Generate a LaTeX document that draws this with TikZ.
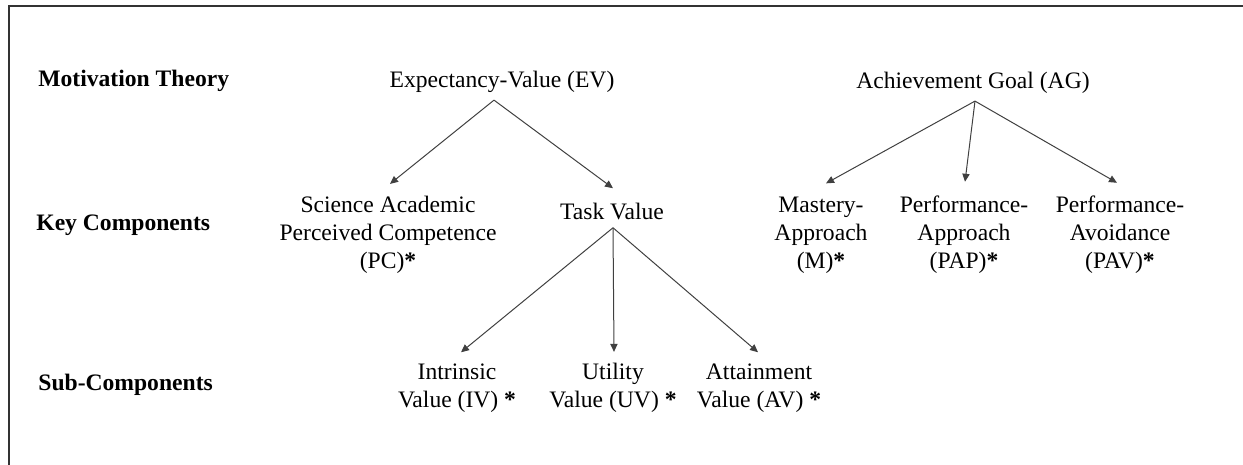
\documentclass[tikz,border=0pt]{standalone}
\usepackage{fontspec}
\setmainfont{Liberation Serif}
\usetikzlibrary{arrows.meta}
\tikzset{
	rowlabel/.style={anchor=west, inner sep=0pt, font=\fontsize{11.8}{14}\selectfont\bfseries},
	concept/.style={align=center, inner sep=0pt, font=\fontsize{11.8}{14}\selectfont},
	link/.style={draw=black!75, line width=0.5pt, -{Triangle[length=4pt,width=3.6pt]}},
}
\begin{document}
\begin{tikzpicture}[x=0.5pt,y=-0.5pt]
		\useasboundingbox (0,0) rectangle (1243,465);
		%draw frame
		\draw[line width=1.2pt, black!80] (9,465) -- (9,6) -- (1243,6);
		%draw row labels
		\node[rowlabel] (theory) at (38,81) {Motivation Theory};
		\node[rowlabel] (key) at (36,225) {Key Components};
		\node[rowlabel] (sub) at (38,385) {Sub-Components};
		%draw theories
		\node[concept] (ev) at (502,82) {Expectancy-Value (EV)};
		\node[concept] (ag) at (973,83) {Achievement Goal (AG)};
		%draw key components
		\node[concept] (pc) at (388,235) {Science Academic\\Perceived Competence\\(PC)\textbf{*}};
		\node[concept] (tv) at (612,211) {Task Value};
		\node[concept] (m) at (821,235) {Mastery-\\Approach\\(M)\textbf{*}};
		\node[concept] (pap) at (964,235) {Performance-\\Approach\\(PAP)\textbf{*}};
		\node[concept] (pav) at (1120,235) {Performance-\\Avoidance\\(PAV)\textbf{*}};
		%draw sub-components
		\node[concept] (iv) at (457,388) {Intrinsic\\Value (IV) \textbf{*}};
		\node[concept] (uv) at (613,388) {Utility\\Value (UV) \textbf{*}};
		\node[concept] (av) at (759,388) {Attainment\\Value (AV) \textbf{*}};
		%arrow roots
		\coordinate (evroot) at ([xshift=-4pt,yshift=-3.5pt]ev.south);
		\coordinate (agroot) at ([xshift=1pt,yshift=-3.5pt]ag.south);
		\coordinate (tvroot) at ([xshift=0.5pt,yshift=-4pt]tv.south);
		%draw arrows
		\draw[link] (evroot) -- ([xshift=1pt,yshift=6pt]pc.north);
		\draw[link] (evroot) -- ([xshift=0.5pt,yshift=7pt]tv.north);
		\draw[link] (agroot) -- ([xshift=2.5pt,yshift=6.5pt]m.north);
		\draw[link] (agroot) -- ([xshift=0.5pt,yshift=7pt]pap.north);
		\draw[link] (agroot) -- ([xshift=-1.5pt,yshift=6.5pt]pav.north);
		\draw[link] (tvroot) -- ([xshift=2pt,yshift=5.5pt]iv.north);
		\draw[link] (tvroot) -- ([xshift=0.5pt,yshift=5.5pt]uv.north);
		\draw[link] (tvroot) -- ([xshift=-0.5pt,yshift=5.5pt]av.north);
\end{tikzpicture}
\end{document}
